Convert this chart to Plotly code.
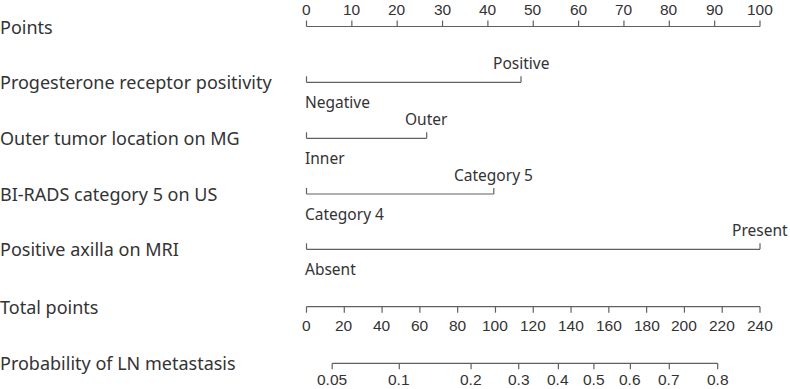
import plotly.graph_objects as go

# ---- data ----
points_ticks = [0, 10, 20, 30, 40, 50, 60, 70, 80, 90, 100]
predictors = ["Progesterone receptor positivity", "Outer tumor location on MG",
              "BI-RADS category 5 on US", "Positive axilla on MRI"]
low_levels = ["Negative", "Inner", "Category 4", "Absent"]
high_levels = ["Positive", "Outer", "Category 5", "Present"]
low_points = [0, 0, 0, 0]
high_points = [47.3, 26.5, 41.3, 100]
total_ticks = [0, 20, 40, 60, 80, 100, 120, 140, 160, 180, 200, 220, 240]
total_max = 240
prob_labels = ["0.05", "0.1", "0.2", "0.3", "0.4", "0.5", "0.6", "0.7", "0.8"]
prob_total_points = [13.6, 49.1, 87.1, 112.3, 133.3, 152.1, 171.4, 192.0, 217.6]

# ---- layout constants (pixel-like vertical positions) ----
W, H = 790, 389
X0PIX, X100PIX = 306.5, 760.0
PX = (X100PIX - X0PIX) / 100.0
xr = [-X0PIX / PX, (W - X0PIX) / PX]
row_y = {"points": 26.5, "pred": [82.3, 138.3, 194.0, 249.3], "total": 306.7, "prob": 363.3}
TICK = 6
LINE_COL = "#606060"
TXT_COL = "#333333"
FONT = "Noto Sans"
TICK_FONT = "Liberation Sans"
TICK_SIZE = 15.5

fig = go.Figure()


def seg_trace(xs, ys):
    fig.add_trace(go.Scatter(x=xs, y=ys, mode="lines", hoverinfo="skip",
                             line=dict(color=LINE_COL, width=1.2), showlegend=False))


def ann(x, y, text, xanchor="center", size=15.5, xshift=0, family=FONT):
    fig.add_annotation(x=x, y=y, text=text, xref="x", yref="y", showarrow=False,
                       xanchor=xanchor, yanchor="middle", xshift=xshift, borderpad=0,
                       font=dict(family=family, size=size, color=TXT_COL))


def tick_label(x, y, text):
    ann(x, y, text, size=TICK_SIZE, family=TICK_FONT)


def left_label(y, text):
    fig.add_annotation(x=0, y=y, text=text, xref="paper", yref="y", showarrow=False,
                       xanchor="left", yanchor="middle", xshift=-2,
                       font=dict(family=FONT, size=18, color=TXT_COL))


# Points axis
yp = row_y["points"]
xs, ys = [points_ticks[0], points_ticks[-1], None], [yp, yp, None]
for t in points_ticks:
    xs += [t, t, None]
    ys += [yp, yp - TICK, None]
    tick_label(t, 9.2, str(t))
seg_trace(xs, ys)
left_label(yp, "Points")

# Predictor rows
for i, name in enumerate(predictors):
    y = row_y["pred"][i]
    lo, hi = low_points[i], high_points[i]
    seg_trace([lo, hi, None, lo, lo, None, hi, hi], [y, y, None, y, y - TICK, None, y, y - TICK])
    ann(hi, y - 19, high_levels[i])
    ann(lo, y + 19.5, low_levels[i], xanchor="left", xshift=-3)
    left_label(y, name)

# Total points axis
yt = row_y["total"]
xs = [0, 100, None]
ys = [yt, yt, None]
for t in total_ticks:
    xv = t * 100.0 / total_max
    xs += [xv, xv, None]
    ys += [yt, yt + TICK, None]
    tick_label(xv, yt + 18.5, str(t))
seg_trace(xs, ys)
left_label(yt, "Total points")

# Probability axis
yq = row_y["prob"]
pxs = [v * 100.0 / total_max for v in prob_total_points]
xs = [pxs[0], pxs[-1], None]
ys = [yq, yq, None]
for lab, xv in zip(prob_labels, pxs):
    xs += [xv, xv, None]
    ys += [yq, yq + TICK, None]
    tick_label(xv, 379.8, lab)
seg_trace(xs, ys)
left_label(yq, "Probability of LN metastasis")

fig.update_layout(
    width=W, height=H, autosize=False,
    margin=dict(l=0, r=0, t=0, b=0),
    paper_bgcolor="white", plot_bgcolor="white",
    xaxis=dict(range=xr, visible=False, fixedrange=True),
    yaxis=dict(range=[H, 0], visible=False, fixedrange=True),
    showlegend=False,
)
fig.write_html("out.html", config={"displayModeBar": False},
               post_script="document.body.style.margin='0';document.body.style.overflow='hidden';")
